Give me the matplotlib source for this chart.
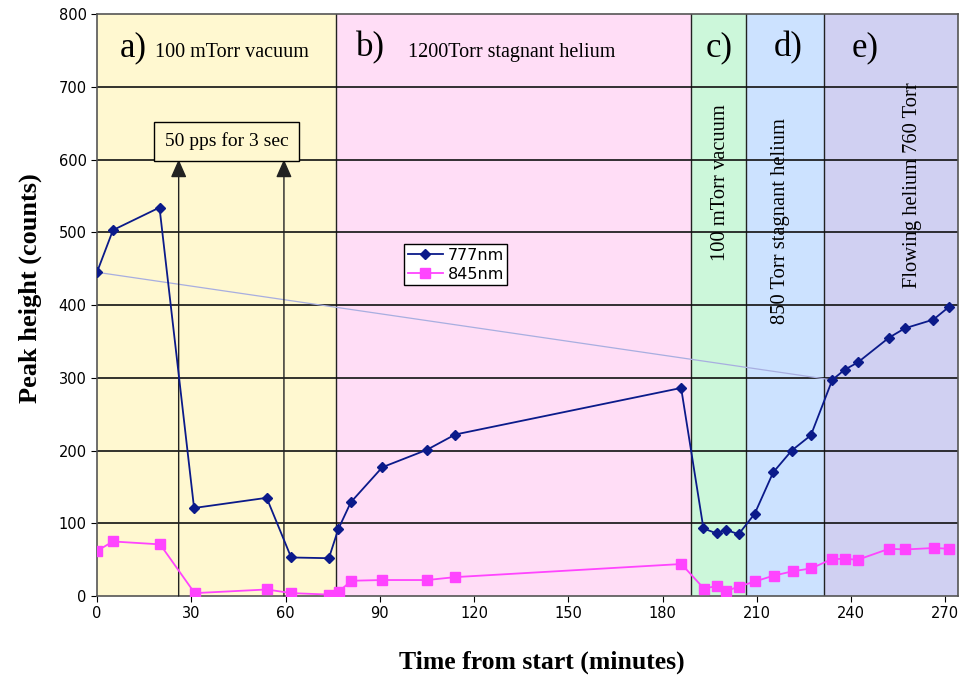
import matplotlib
matplotlib.use("Agg")
import matplotlib.pyplot as plt

# ---- data ----
t777 = [0, 5.1, 19.9, 30.9, 54.0, 61.8, 73.8, 76.8, 80.8, 90.8, 105.0, 114.0, 185.9,
        193.0, 197.2, 200.1, 204.2, 209.3, 215.2, 221.1, 227.2, 234.0, 237.9, 242.1,
        252.0, 257.1, 266.2, 271.0]
v777 = [445, 503, 534, 121, 135, 53, 52, 92, 129, 177, 201, 222, 286,
        93, 86, 91, 85, 113, 170, 200, 221, 297, 311, 321,
        355, 368, 380, 397]
t845 = [0, 5.1, 20.1, 31.1, 54.0, 61.9, 73.9, 76.9, 81.0, 90.8, 105.1, 114.0, 186.0,
        193.2, 197.2, 200.3, 204.3, 209.4, 215.3, 221.4, 227.3, 234.0, 238.0, 242.2,
        252.1, 257.2, 266.3, 271.1]
v845 = [62, 75, 71, 4, 9, 4, 2, 6, 21, 22, 22, 26, 44,
        10, 14, 7, 13, 20, 28, 34, 38, 51, 51, 50,
        65, 64, 66, 65]
trend_t = [0, 234.0]
trend_v = [445, 297]

region_edges = [0, 76.1, 189.2, 206.7, 231.5, 274]
region_colors = ["#FFF8D0", "#FFDDF6", "#CCF7DA", "#CCE2FF", "#D0D0F2"]
region_letters = ["a)", "b)", "c)", "d)", "e)"]
letter_x = [7.3, 82.5, 193.6, 215.5, 240.3]
region_texts = ["100 mTorr vacuum", "1200Torr stagnant helium"]
region_text_x = [18.5, 99]
vert_texts = ["100 mTorr vacuum", "850 Torr stagnant helium", "Flowing helium 760 Torr"]
vert_x = [198.4, 217.5, 259.4]
vert_y = [568, 515, 565]
arrow_x = [26.0, 59.5]
pulse_label = "50 pps for 3 sec"

x_ticks = list(range(0, 271, 30))
y_ticks = list(range(0, 801, 100))

# ---- figure ----
fig = plt.figure(figsize=(9.62, 6.77), dpi=100)
ax = fig.add_axes([0.1008, 0.1196, 0.8950, 0.8597])
ax.set_xlim(0, 274)
ax.set_ylim(0, 800)

for i, c in enumerate(region_colors):
    ax.axvspan(region_edges[i], region_edges[i + 1], color=c, zorder=0, lw=0)
for e in region_edges[1:-1]:
    ax.axvline(e, color="#222222", lw=1.0, zorder=1)
for y in y_ticks[1:-1]:
    ax.axhline(y, color="#111111", lw=1.2, zorder=1)

serif = "Liberation Serif"
for lx, lt in zip(letter_x, region_letters):
    ax.text(lx, 754, lt, fontsize=25, family=serif, ha="left", va="center", zorder=5)
for tx, tt in zip(region_text_x, region_texts):
    ax.text(tx, 747, tt, fontsize=14.5, family=serif, ha="left", va="center", zorder=5)
for vx, vy, vt in zip(vert_x, vert_y, vert_texts):
    ax.text(vx, vy, vt, fontsize=14.8, family=serif, rotation=90, ha="center", va="center", zorder=5)

# arrows and pulse box
for axx in arrow_x:
    ax.annotate("", xy=(axx, 600), xytext=(axx, 0),
                arrowprops=dict(arrowstyle="-|>,head_length=0.5,head_width=0.22",
                                color="#222222", lw=1.0,
                                mutation_scale=22, shrinkA=0, shrinkB=0), zorder=3)
ax.text(41.3, 625, pulse_label, fontsize=14, family=serif, ha="center", va="center", zorder=6,
        bbox=dict(boxstyle="square,pad=0.55", fc="#FFF8D0", ec="black", lw=1.0))

ax.plot(trend_t, trend_v, color="#A8AEE0", lw=0.9, zorder=2)
ax.plot(t777, v777, color="#0B1A8A", lw=1.3, marker="D", ms=5, mfc="#0B1A8A",
        mec="#0B1A8A", label="777nm", zorder=4)
ax.plot(t845, v845, color="#FF44FF", lw=1.3, marker="s", ms=7, mfc="#FF44FF",
        mec="#FF44FF", label="845nm", zorder=4)

leg = ax.legend(loc="upper left", bbox_to_anchor=(0.357, 0.604), fontsize=11.5,
                frameon=True, fancybox=False, edgecolor="black", framealpha=1,
                handlelength=2.2, borderpad=0.2, labelspacing=0.25, handletextpad=0.3,
                borderaxespad=0)
leg.get_frame().set_linewidth(1.0)

ax.set_xticks(x_ticks)
ax.set_yticks(y_ticks)
ax.tick_params(labelsize=10.5, direction="out", length=4, color="black")
for s in ax.spines.values():
    s.set_color("#555555")
    s.set_linewidth(1.2)

ax.set_ylabel("Peak height (counts)", fontsize=19, fontweight="bold", family=serif)
ax.yaxis.set_label_coords(-0.064, 0.529)
ax.set_xlabel("Time from start (minutes)", fontsize=18.5, fontweight="bold", family=serif)
ax.xaxis.set_label_coords(0.517, -0.094)

fig.savefig("out.png", dpi=100)
